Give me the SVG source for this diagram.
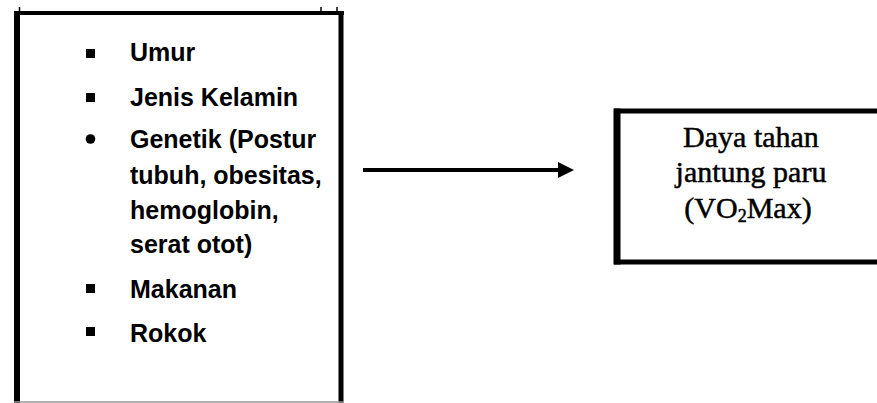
<svg xmlns="http://www.w3.org/2000/svg" width="877" height="403" viewBox="0 0 877 403">
<style>
.list{font-family:"Liberation Sans",Arial,sans-serif;font-weight:bold;font-size:25px;fill:#000}
.res{font-family:"Liberation Serif","Times New Roman",serif;font-size:30px;fill:#000;stroke:#000;stroke-width:0.5;text-anchor:middle}
.edge{stroke:#000;fill:none}
</style>
<defs>
<marker id="ah" markerWidth="4" markerHeight="4" refX="1" refY="2" orient="auto" markerUnits="strokeWidth">
<path d="M0,0 L4,2 L0,4 Z" fill="#000"/>
</marker>
</defs>
<rect width="877" height="403" fill="#fff"/>
<g id="factors">
<line class="edge" x1="14" y1="13" x2="344" y2="13" stroke-width="4"/>
<line class="edge" x1="17" y1="11" x2="17" y2="403" stroke-width="6"/>
<line class="edge" x1="341" y1="11" x2="341" y2="403" stroke-width="5"/>
<line x1="14" y1="402" x2="344" y2="402" stroke="#999" stroke-width="1.5"/>
<line x1="19.5" y1="7" x2="19.5" y2="12" stroke="#000" stroke-width="1.5"/>
<line x1="321" y1="7" x2="321" y2="12" stroke="#000" stroke-width="1.5"/>
<line x1="337" y1="7" x2="337" y2="12" stroke="#000" stroke-width="1.5"/>
<rect x="86" y="49" width="9" height="9"/>
<rect x="86" y="93" width="9" height="9"/>
<circle cx="90.5" cy="139" r="4.8"/>
<rect x="86" y="284" width="9" height="9"/>
<rect x="86" y="327" width="9" height="9"/>
<text class="list" x="130" y="61">Umur</text>
<text class="list" x="130" y="106">Jenis Kelamin</text>
<text class="list" x="130" y="148">Genetik (Postur</text>
<text class="list" x="130" y="184">tubuh, obesitas,</text>
<text class="list" x="130" y="219">hemoglobin,</text>
<text class="list" x="130" y="253">serat otot)</text>
<text class="list" x="130" y="298">Makanan</text>
<text class="list" x="130" y="342">Rokok</text>
</g>
<g id="connectors">
<line x1="363" y1="170" x2="562" y2="170" stroke="#000" stroke-width="4" marker-end="url(#ah)"/>
</g>
<g id="vo2max">
<line class="edge" x1="614" y1="111" x2="877" y2="111" stroke-width="5"/>
<line class="edge" x1="614" y1="262" x2="877" y2="262" stroke-width="5"/>
<line class="edge" x1="617" y1="108.5" x2="617" y2="264.5" stroke-width="7"/>
<text class="res" x="751" y="147">Daya tahan</text>
<text class="res" x="751" y="182">jantung paru</text>
<text class="res" x="748" y="218">(VO<tspan font-size="18" dy="4">2</tspan><tspan dy="-4">Max)</tspan></text>
</g>
</svg>
